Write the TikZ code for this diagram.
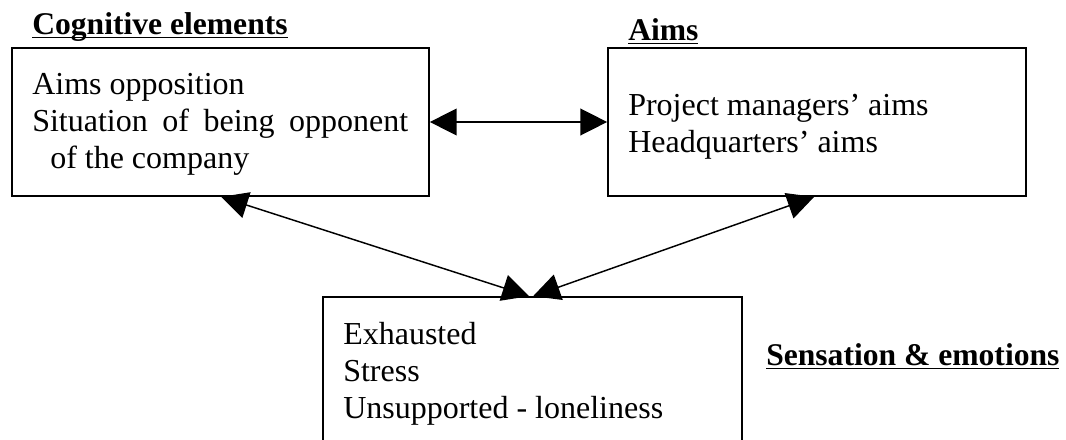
\documentclass[tikz,border=0pt]{standalone}
\usepackage{fontspec}
\setmainfont{Liberation Serif}
\usetikzlibrary{arrows.meta,calc}
% bold heading with a rule just under the baseline
\newcommand\ulhead[1]{\setbox0\hbox{#1}\rlap{\rule[-3.2pt]{\wd0}{1.1pt}}\box0}
\begin{document}
\begin{tikzpicture}[x=0.75pt,y=-0.75pt,
  box/.style={draw, line width=1.3pt, rectangle, inner sep=0pt},
  body/.style={anchor=base west, inner sep=0pt, align=left,
    font=\fontsize{24pt}{27.4pt}\selectfont},
  head/.style={anchor=base west, inner sep=0pt,
    font=\fontsize{23.7pt}{27pt}\selectfont\bfseries},
  link/.style={line width=1.1pt,
    {Triangle[length=20pt,width=20pt]}-{Triangle[length=20pt,width=20pt]}}]
\useasboundingbox (0,0) rectangle (1066,439);
\clip (0,0) rectangle (1066,439);

% boxes
\node (cog)  [box, minimum width=312.75pt, minimum height=111pt] at (220.5,122) {};
\node (aims) [box, minimum width=313.5pt,  minimum height=111pt] at (817,122) {};
\node (sens) [box, minimum width=314.25pt, minimum height=137.25pt] at (532.5,388.5) {};

% headings
\node (hcog)  [head] at (32,34)   {\ulhead{Cognitive elements}};
\node (haims) [head] at (628,40)  {\ulhead{Aims}};
\node (hsens) [head] at (766,365) {\ulhead{Sensation \& emotions}};

% box contents (anchored on the baseline of the last line)
\node (tcog) [body] at (32,168) {Aims opposition\\
  \makebox[282pt][s]{Situation of being opponent}\\
  \hspace*{13.5pt}of the company};
\node (taims) [body] at (628,152) {Project managers’ aims\\Headquarters’ aims};
\node (tsens) [body] at (343,418) {Exhausted\\Stress\\Unsupported - loneliness};

% connectors
\draw[link] (cog.east) -- (aims.west);
\draw[link] ($(cog.south west)+(210,0)$) -- ($(sens.north west)+(207,0)$);
\draw[link] ($(aims.south west)+(207,0)$) -- ($(sens.north west)+(211,0)$);
\end{tikzpicture}
\end{document}
